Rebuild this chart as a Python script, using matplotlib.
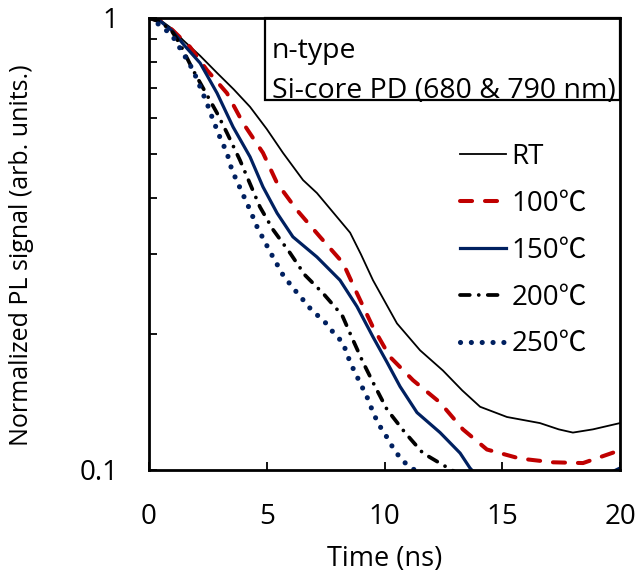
import matplotlib
matplotlib.use("Agg")
import matplotlib.pyplot as plt
from matplotlib.patches import Rectangle
from matplotlib.ticker import LogLocator, NullFormatter, FixedLocator, FixedFormatter

plt.rcParams['font.family'] = ['Open Sans', 'Noto Sans CJK JP', 'DejaVu Sans']

# ---- data ----
t_rt = [0, 0.5, 1.0, 1.44, 2.17, 2.89, 3.6, 4.29, 5.0, 5.69, 6.54, 7.13, 7.98, 8.54, 9.0, 9.51, 10.53, 11.51, 12.48, 13.3, 14.06, 15.2, 16.6, 17.4, 18.0, 18.85, 20.0]
v_rt = [1.0, 0.988, 0.945, 0.894, 0.825, 0.756, 0.695, 0.636, 0.568, 0.503, 0.438, 0.410, 0.363, 0.335, 0.300, 0.263, 0.211, 0.184, 0.166, 0.150, 0.138, 0.131, 0.127, 0.123, 0.121, 0.123, 0.127]

t_100 = [0, 0.5, 1.0, 1.74, 2.46, 3.31, 3.99, 4.84, 5.44, 6.28, 7.26, 8.24, 8.83, 9.51, 10.23, 11.21, 12.36, 13.33, 14.35, 15.75, 17.15, 18.43, 19.87, 20.0]
v_100 = [1.0, 0.985, 0.94, 0.863, 0.767, 0.682, 0.586, 0.503, 0.431, 0.376, 0.328, 0.287, 0.246, 0.207, 0.178, 0.158, 0.141, 0.123, 0.111, 0.106, 0.104, 0.1036, 0.110, 0.111]

t_150 = [0, 0.5, 1.0, 1.5, 2.17, 2.89, 3.57, 4.29, 4.84, 5.44, 6.11, 7.13, 8.11, 8.83, 9.51, 10.11, 10.66, 11.38, 12.36, 13.21, 13.63, 14.5, 16.0, 18.0, 19.3, 20.0]
v_150 = [1.0, 0.982, 0.935, 0.87, 0.795, 0.682, 0.574, 0.493, 0.423, 0.370, 0.328, 0.296, 0.263, 0.230, 0.197, 0.173, 0.153, 0.134, 0.121, 0.109, 0.101, 0.090, 0.085, 0.088, 0.097, 0.101]

t_200 = [0, 0.5, 1.0, 1.32, 1.87, 2.89, 3.31, 3.86, 4.71, 5.27, 5.99, 6.62, 7.39, 8.20, 8.66, 9.09, 9.60, 10.11, 10.87, 11.63, 12.48, 13.0, 14.0]
v_200 = [1.0, 0.98, 0.93, 0.875, 0.767, 0.616, 0.557, 0.485, 0.382, 0.340, 0.302, 0.270, 0.246, 0.220, 0.194, 0.173, 0.153, 0.136, 0.121, 0.109, 0.1026, 0.099, 0.092]

t_250 = [0, 0.59, 1.02, 1.44, 1.87, 2.17, 2.46, 2.72, 3.01, 3.31, 3.52, 4.29, 4.59, 5.14, 5.69, 6.11, 6.54, 6.96, 7.39, 7.81, 8.24, 8.45, 8.66, 8.96, 9.26, 9.47, 9.72, 10.11, 10.36, 10.74, 11.17, 11.8]
v_250 = [1.0, 0.955, 0.908, 0.837, 0.767, 0.704, 0.648, 0.595, 0.545, 0.503, 0.461, 0.376, 0.345, 0.304, 0.270, 0.253, 0.238, 0.224, 0.215, 0.202, 0.191, 0.178, 0.168, 0.156, 0.145, 0.136, 0.127, 0.118, 0.112, 0.105, 0.101, 0.095]

labels = ['RT', '100℃', '150℃', '200℃', '250℃']
x_ticks = [0, 5, 10, 15, 20]
y_ticks = [0.1, 1]
y_ticklabels = ['0.1', '1']

fig = plt.figure(figsize=(6.41, 5.75), dpi=100)
ax = fig.add_axes([149/641, 1-470/575, 471/641, 452/575])

navy = '#002060'
red = '#C00000'

ax.plot(t_rt, v_rt, color='black', lw=1.3, label=labels[0], solid_joinstyle='round')
ax.plot(t_100, v_100, color=red, lw=2.9, label=labels[1], linestyle=(0, (3.0, 3.2)), dash_capstyle='round', dash_joinstyle='round')
ax.plot(t_150, v_150, color=navy, lw=2.3, label=labels[2], solid_joinstyle='round')
ax.plot(t_200, v_200, color='black', lw=2.7, label=labels[3], linestyle=(0, (2.6, 2.4, 0.01, 2.4)), dash_capstyle='round', dash_joinstyle='round')
ax.plot(t_250, v_250, color=navy, lw=3.7, label=labels[4], linestyle=(0, (0.01, 2.1)), dash_capstyle='round')

ax.set_yscale('log')
ax.set_xlim(0, 20)
ax.set_ylim(0.1, 1)
ax.xaxis.set_major_locator(FixedLocator(x_ticks))
ax.yaxis.set_major_locator(FixedLocator(y_ticks))
ax.yaxis.set_major_formatter(FixedFormatter(y_ticklabels))
ax.yaxis.set_minor_locator(LogLocator(base=10, subs=[2, 3, 4, 5, 6, 7, 8, 9]))
ax.yaxis.set_minor_formatter(NullFormatter())

ax.tick_params(axis='both', which='major', direction='in', length=6, width=1.3, labelsize=20, color='black')
ax.tick_params(axis='y', which='minor', direction='in', length=6, width=1.3)
ax.tick_params(axis='x', which='major', pad=24)
ax.tick_params(axis='y', which='major', pad=22)
for s in ax.spines.values():
    s.set_linewidth(2.0)

ax.set_xlabel('Time (ns)', fontsize=19.5)
ax.xaxis.set_label_coords(0.5, -0.198)
ax.xaxis.label.set_va('center')
ax.set_ylabel('Normalized PL signal (arb. units.)', fontsize=18)
ax.yaxis.set_label_coords(-0.27, 0.476)
ax.yaxis.label.set_va('center')

# text box
box = Rectangle((0.246, 0.819), 0.754, 0.181, transform=ax.transAxes, fill=False,
                edgecolor='black', lw=1.6, zorder=5, clip_on=False)
ax.add_patch(box)
ax.text(0.261, 0.926, 'n-type', transform=ax.transAxes, fontsize=20.5, va='center', ha='left', zorder=6)
ax.text(0.261, 0.839, 'Si-core PD (680 & 790 nm)', transform=ax.transAxes, fontsize=20.5, va='center', ha='left', zorder=6)

leg = ax.legend(loc='upper left', bbox_to_anchor=(0.661, 0.724), frameon=False, fontsize=20,
                handlelength=1.65, handletextpad=0.2, labelspacing=0.68, borderaxespad=0,
                borderpad=0)

fig.savefig('out.png', dpi=100)
